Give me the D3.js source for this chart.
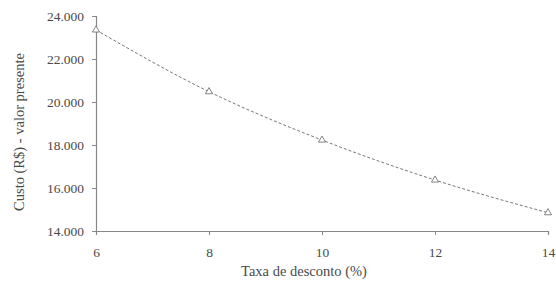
<!DOCTYPE html>
<html>
<head>
<meta charset="utf-8">
<script src="https://cdn.jsdelivr.net/npm/d3@7"></script>
<style>
  body { margin: 0; background: #fff; }
  svg text { font-family: "Liberation Serif", "DejaVu Serif", serif; fill: #4a4a4a; }
</style>
</head>
<body>
<svg width="556" height="283"></svg>
<script>
// Dados
const taxas = [6, 8, 10, 12, 14];
const custos = [23350, 20480, 18230, 16370, 14850];
const yTicks = [14000, 16000, 18000, 20000, 22000, 24000];

const svg = d3.select("svg");
const margin = { left: 96, right: 8, top: 16, bottom: 52 };
const w = 556, h = 283;

const x = d3.scaleLinear().domain([6, 14]).range([margin.left, w - margin.right]);
const y = d3.scaleLinear().domain([14000, 24000]).range([h - margin.bottom, margin.top]);

// eixo y
const gy = svg.append("g")
    .attr("transform", `translate(${margin.left},0)`)
    .call(d3.axisLeft(y).tickValues(yTicks).tickSize(4).tickPadding(8)
        .tickFormat(d => d3.format(".3f")(d / 1000)));
// eixo x
const gx = svg.append("g")
    .attr("transform", `translate(0,${h - margin.bottom})`)
    .call(d3.axisBottom(x).tickValues(taxas).tickSize(4).tickPadding(12));

[gx, gy].forEach(g => {
    g.attr("font-family", null);
    g.select(".domain").attr("stroke", "#888").attr("stroke-width", 1.2);
    g.selectAll(".tick line").attr("stroke", "#888");
    g.selectAll(".tick text").attr("fill", "#4a4a4a").style("font-size", "13.5px");
});

const dados = taxas.map((t, i) => ({ t, v: custos[i] }));

svg.append("path")
    .datum(dados)
    .attr("fill", "none")
    .attr("stroke", "#777")
    .attr("stroke-width", 1)
    .attr("stroke-dasharray", "3,2")
    .attr("d", d3.line().x(d => x(d.t)).y(d => y(d.v)).curve(d3.curveMonotoneX));

svg.append("g")
    .selectAll("path")
    .data(dados)
    .enter()
    .append("path")
    .attr("transform", d => `translate(${x(d.t)},${y(d.v)})`)
    .attr("d", d3.symbol(d3.symbolTriangle, 22))
    .attr("fill", "#fff")
    .attr("stroke", "#666")
    .attr("stroke-width", 0.8);

// títulos
svg.append("text")
    .attr("x", 304)
    .attr("y", 276)
    .attr("text-anchor", "middle")
    .style("font-size", "14.5px")
    .text("Taxa de desconto (%)");

svg.append("text")
    .attr("transform", `translate(24,132) rotate(-90)`)
    .attr("text-anchor", "middle")
    .style("font-size", "14.5px")
    .text("Custo (R$) - valor presente");
</script>
</body>
</html>
